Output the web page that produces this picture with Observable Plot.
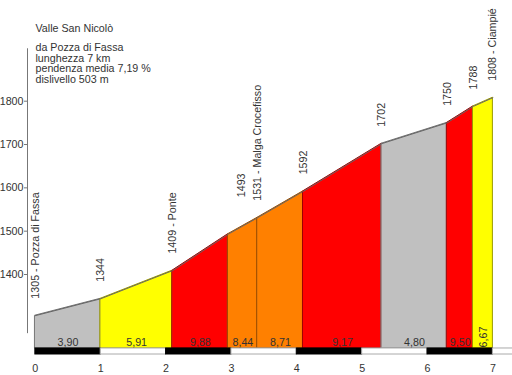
<!DOCTYPE html>
<html><head><meta charset="utf-8">
<script src="https://cdn.jsdelivr.net/npm/d3@7"></script>
<script src="https://cdn.jsdelivr.net/npm/@observablehq/plot@0.6"></script>
<style>body{margin:0;background:#fff} svg{display:block}</style>
</head><body><div id="chart"></div>
<script>
// ---- data ----
const title = "Valle San Nicolò";
const infoLines = ["da Pozza di Fassa", "lunghezza 7 km", "pendenza media 7,19 %", "dislivello 503 m"];
const distKm = [0, 1, 2.1, 2.95, 3.4, 4.1, 5.3, 6.3, 6.7, 7.0];
const elevM = [1305, 1344, 1409, 1493, 1531, 1592, 1702, 1750, 1788, 1808];
const placeNames = ["Pozza di Fassa", "", "Ponte", "", "Malga Crocefisso", "", "", "", "", "Ciampié"];
const xTicks = [0, 1, 2, 3, 4, 5, 6, 7];
const yTicks = [1400, 1500, 1600, 1700, 1800];
const kmBlocks = [0, 1, 2, 3, 4, 5, 6, 7];

// ---- helpers ----
const FONT = "10.7px";
const TXT = "#333";
const base = 1229.3;       // floor of the profile
const barBottom = 1215.4;  // bottom of km bar
const gradeColor = g => g < 5 ? "#c0c0c0" : g < 8 ? "#ffff00" : g < 9 ? "#ff8000" : "#ff0000";
const fmt = v => v.toFixed(2).replace(".", ",");

const segments = d3.range(distKm.length - 1).map(i => {
  const g = (elevM[i + 1] - elevM[i]) / (distKm[i + 1] - distKm[i]) / 10;
  const fill = gradeColor(g);
  return {seg: i, x0: distKm[i], x1: distKm[i + 1], mid: (distKm[i] + distKm[i + 1]) / 2,
          grade: g, label: fmt(g), fill, stroke: d3.color(fill).darker(1.4).formatHex(),
          narrow: distKm[i + 1] - distKm[i] < 0.35};
});
const areaData = segments.flatMap(s => [
  {seg: s.seg, x: s.x0, y: elevM[s.seg], fill: s.fill, stroke: s.stroke},
  {seg: s.seg, x: s.x1, y: elevM[s.seg + 1], fill: s.fill, stroke: s.stroke}
]);
const points = distKm.map((d, i) => ({x: d, y: elevM[i],
  text: placeNames[i] ? `${elevM[i]} - ${placeNames[i]}` : `${elevM[i]}`}));

const chart = Plot.plot({
  width: 512, height: 375,
  marginLeft: 27, marginRight: 0, marginTop: 0, marginBottom: 21,
  x: {domain: [-0.12, 7.3]},
  y: {domain: [barBottom, 2032.4]},
  color: {type: "identity"},
  style: {fontFamily: "'Liberation Sans', Arial, sans-serif", fontSize: FONT, color: TXT, background: "#fff"},
  marks: [
    Plot.areaY(areaData, {x: "x", y1: base, y2: "y", z: "seg", fill: "fill", stroke: "stroke", strokeWidth: 1}),
    Plot.line(points, {x: "x", y: "y", stroke: "#666", strokeWidth: 1}),
    Plot.rect(kmBlocks, {x1: d => d, x2: d => d + 1, y1: barBottom, y2: base,
      fill: d => d % 2 ? "#ffffff" : "#000000", stroke: d => d % 2 ? "#aaaaaa" : "#000000", strokeWidth: 1}),
    Plot.ruleX([-0.12], {y1: 1263.5, y2: 1921, stroke: "#777"}),
    Plot.axisY(yTicks, {tickSize: 3, tickPadding: 1, stroke: "#777", fill: TXT, fontSize: FONT,
      tickFormat: d => String(d), label: null}),
    Plot.axisX(xTicks, {tickSize: 0, tickPadding: 10, fill: TXT, fontSize: FONT, tickFormat: d => String(d), label: null}),
    // point labels
    Plot.text(points.filter(p => p.y !== 1493), {x: "x", y: "y", text: "text", rotate: -90, textAnchor: "start",
      dy: -17, fill: TXT, fontSize: FONT}),
    Plot.text(points.filter(p => p.y === 1493), {x: "x", y: "y", text: "text", rotate: -90, textAnchor: "start",
      dy: -37, dx: 13, fill: TXT, fontSize: FONT}),
    // grade labels
    Plot.text(segments.filter(s => !s.narrow), {x: "mid", y: base, text: "label", dy: -6, fill: TXT, fontSize: FONT}),
    Plot.text(segments.filter(s => s.narrow), {x: "mid", y: base, text: "label", rotate: -90, textAnchor: "start",
      dy: -1, fill: TXT, fontSize: FONT}),
    // title block
    Plot.text([title], {frameAnchor: "top-left", text: d => d, dx: 8, dy: 24, lineAnchor: "top", fill: TXT, fontSize: FONT}),
    Plot.text([infoLines.join("\n")], {frameAnchor: "top-left", text: d => d, dx: 8, dy: 43, lineAnchor: "top",
      lineHeight: 1.0, fill: TXT, fontSize: FONT})
  ]
});
document.getElementById("chart").appendChild(chart);
</script>
</body></html>
